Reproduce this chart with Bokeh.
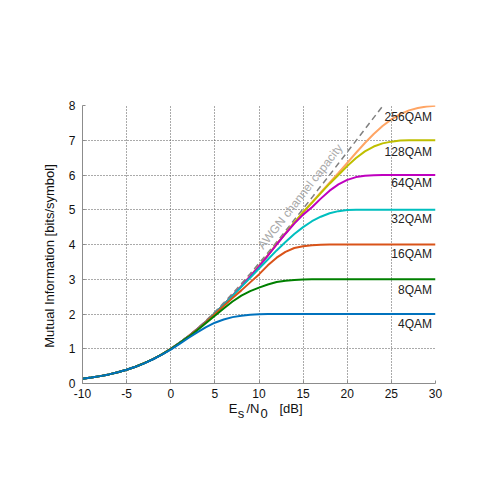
from bokeh.plotting import figure
from bokeh.models import Range1d, FixedTicker, Label, LinearAxis
from bokeh.core.properties import value
from bokeh.embed import file_html
from bokeh.resources import INLINE

FONT = "Liberation Sans"

# Es/N0 grid in dB
snr_db = list(range(-10, 31))
awgn_db = list(range(-10, 25))

# AWGN channel capacity [bits/symbol]
awgn = [0.14, 0.17, 0.21, 0.26, 0.32, 0.40, 0.48, 0.59, 0.71, 0.84, 1.00,
        1.18, 1.37, 1.58, 1.81, 2.06, 2.32, 2.59, 2.87, 3.16, 3.46,
        3.76, 4.07, 4.39, 4.71, 5.03, 5.35, 5.68, 6.00, 6.33, 6.66,
        6.99, 7.32, 7.65, 7.98]

low = [0.137, 0.171, 0.212, 0.262, 0.323, 0.395, 0.483, 0.585, 0.704, 0.840]

mi_4qam = [0.137, 0.171, 0.212, 0.262, 0.322, 0.394, 0.480, 0.580, 0.698, 0.828, 0.975,
           1.14, 1.31, 1.47, 1.62, 1.75, 1.84, 1.91, 1.95, 1.98, 1.99] + [2.0] * 20
mi_8qam = [0.137, 0.171, 0.212, 0.262, 0.323, 0.395, 0.482, 0.584, 0.703, 0.838, 0.99,
           1.16, 1.34, 1.53, 1.74, 1.95, 2.16, 2.36, 2.53, 2.66, 2.76,
           2.85, 2.92, 2.96, 2.98, 2.99] + [3.0] * 15
mi_16qam = low + [0.995,
                  1.165, 1.35, 1.55, 1.77, 2.00, 2.23, 2.46, 2.68, 2.91, 3.14,
                  3.40, 3.62, 3.79, 3.90, 3.95, 3.98, 3.99] + [4.0] * 13
mi_32qam = low + [0.996,
                  1.168, 1.355, 1.56, 1.78, 2.02, 2.27, 2.52, 2.78, 3.04, 3.31,
                  3.57, 3.83, 4.07, 4.30, 4.50, 4.67, 4.80, 4.90, 4.96, 4.99] + [5.0] * 10
mi_64qam = low + [0.997,
                  1.17, 1.36, 1.565, 1.785, 2.02, 2.27, 2.53, 2.80, 3.08, 3.37,
                  3.68, 4.00, 4.31, 4.60, 4.86, 5.07, 5.32, 5.55, 5.73, 5.86,
                  5.94, 5.98, 5.99] + [6.0] * 7
mi_128qam = low + [0.997,
                   1.17, 1.36, 1.565, 1.785, 2.02, 2.27, 2.53, 2.80, 3.08, 3.38,
                   3.69, 4.01, 4.32, 4.63, 4.93, 5.20, 5.48, 5.75, 6.00, 6.26,
                   6.49, 6.68, 6.82, 6.91, 6.96, 6.99, 7.0, 7.0, 7.0, 7.0]
mi_256qam = low + [0.997,
                   1.17, 1.36, 1.565, 1.785, 2.02, 2.27, 2.53, 2.80, 3.08, 3.38,
                   3.69, 4.01, 4.32, 4.63, 4.93, 5.21, 5.50, 5.78, 6.06, 6.35,
                   6.64, 6.92, 7.18, 7.41, 7.60, 7.75, 7.86, 7.93, 7.97, 7.99]

series_names = ["256QAM", "128QAM", "64QAM", "32QAM", "16QAM", "8QAM", "4QAM"]
series_values = [mi_256qam, mi_128qam, mi_64qam, mi_32qam, mi_16qam, mi_8qam, mi_4qam]
series_colors = ["#FFA564", "#BFBF00", "#BF00BF", "#00BFBF", "#D95319", "#008000", "#0072BD"]
label_x = [29.6] * 7
label_y = [7.66, 6.67, 5.76, 4.73, 3.73, 2.69, 1.71]

x_ticks = [-10, -5, 0, 5, 10, 15, 20, 25, 30]
y_ticks = [0, 1, 2, 3, 4, 5, 6, 7, 8]

# axis title pieces: (text, position along the axis)
xtitle_main = [("E", 7.05), ("/N", 9.32), ("[dB]", 13.63)]
xtitle_sub = [("s", 7.96), ("0", 10.57)]
ytitle = ("Mutual Information [bits/symbol]", 3.67)

p = figure(width=492, height=492, output_backend="svg", toolbar_location=None,
           x_range=Range1d(-10, 30), y_range=Range1d(0, 8),
           min_border_left=82, min_border_right=57, min_border_top=105,
           min_border_bottom=109)
p.outline_line_color = None
p.background_fill_color = "white"

for ax in (p.xaxis[0], p.yaxis[0]):
    ax.axis_line_color = "#8c8c8c"
    ax.major_tick_line_color = "#8c8c8c"
    ax.major_tick_in = 3
    ax.major_tick_out = 0
    ax.minor_tick_line_color = None
    ax.major_label_text_font = FONT
    ax.major_label_text_font_size = "12px"
    ax.major_label_text_color = "#111111"
p.xaxis.ticker = FixedTicker(ticks=x_ticks)
p.yaxis.ticker = FixedTicker(ticks=y_ticks)
p.xaxis.major_label_overrides = {t: str(t) for t in x_ticks}
p.xaxis.major_label_standoff = 5
p.yaxis.major_label_standoff = 7


def title_axis(pieces, standoff, orientation="horizontal"):
    ax = LinearAxis(ticker=FixedTicker(ticks=[v for _, v in pieces]),
                    major_label_overrides={v: t for t, v in pieces})
    ax.axis_line_color = None
    ax.major_tick_line_color = None
    ax.minor_tick_line_color = None
    ax.major_tick_in = 0
    ax.major_tick_out = 0
    ax.minor_tick_in = 0
    ax.minor_tick_out = 0
    ax.major_label_text_font = FONT
    ax.major_label_text_font_size = "13px"
    ax.major_label_text_color = "#111111"
    ax.major_label_standoff = standoff
    ax.major_label_orientation = orientation
    return ax


p.add_layout(title_axis(xtitle_main, 0), "below")
p.add_layout(title_axis(xtitle_sub, -13), "below")
p.add_layout(title_axis([ytitle], 8, "vertical"), "left")

for g in (p.xgrid[0], p.ygrid[0]):
    g.grid_line_color = "#555555"
    g.grid_line_dash = "1 2"
    g.grid_line_width = 1

# AWGN capacity (drawn first, underneath)
p.line(awgn_db, awgn, line_color="#808080", line_width=1.5, line_dash="6 4")

for vals, col in zip(series_values, series_colors):
    p.line(snr_db, vals, line_color=col, line_width=2)

p.text(x=label_x, y=label_y, text=series_names, text_font=value(FONT),
       text_font_size="12px", text_align="right", text_baseline="middle",
       text_color="#222222")

p.add_layout(Label(x=14.66, y=5.38, text="AWGN channel capacity", angle=0.907,
                   text_font=FONT, text_font_size="12px", text_color="#a8a8a8",
                   text_align="center", text_baseline="middle"))

open("out.html", "w").write(file_html(p, INLINE))
